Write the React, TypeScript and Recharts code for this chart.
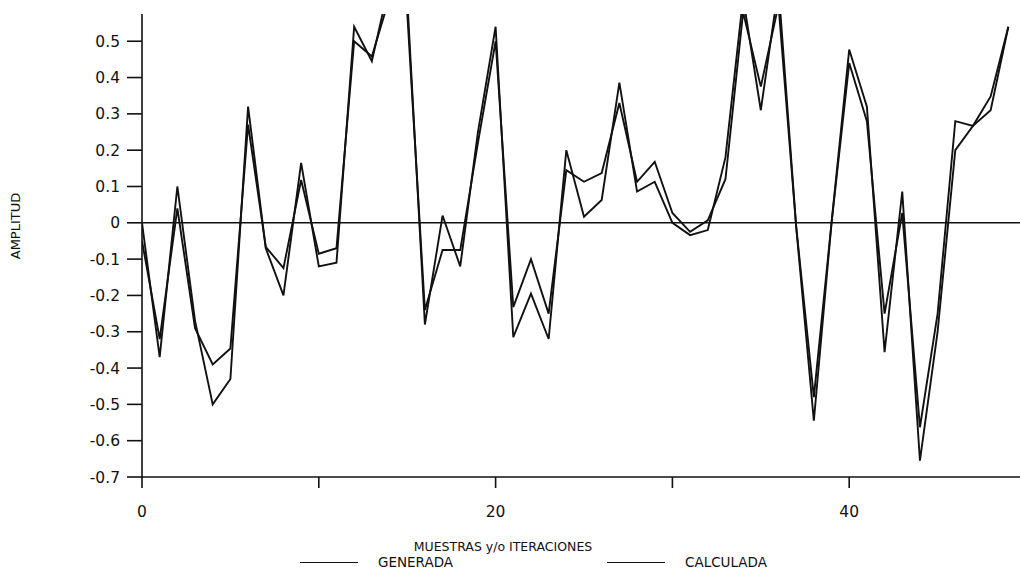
import { LineChart, Line, XAxis, YAxis, ReferenceLine, Legend } from 'recharts';

// sample index (x)
const muestras = [
  0, 1, 2, 3, 4, 5, 6, 7, 8, 9, 10, 11, 12, 13, 14, 15, 16, 17, 18, 19, 20, 21, 22, 23, 24,
  25, 26, 27, 28, 29, 30, 31, 32, 33, 34, 35, 36, 37, 38, 39, 40, 41, 42, 43, 44, 45, 46, 47, 48, 49,
];

const generada = [
  0.0, -0.37, 0.1, -0.27, -0.5, -0.43, 0.32, -0.07, -0.2, 0.165,
  -0.12, -0.11, 0.54, 0.445, 0.66, 0.62, -0.28, 0.02, -0.12, 0.25,
  0.54, -0.315, -0.195, -0.32, 0.2, 0.017, 0.063, 0.386, 0.086, 0.113,
  0.0, -0.034, -0.02, 0.18, 0.62, 0.31, 0.65, -0.01, -0.545, 0.0,
  0.477, 0.32, -0.356, 0.086, -0.655, -0.3, 0.2, 0.267, 0.31, 0.54,
];

const calculada = [
  -0.05, -0.32, 0.04, -0.29, -0.39, -0.346, 0.27, -0.066, -0.125, 0.118,
  -0.085, -0.07, 0.5, 0.458, 0.62, 0.58, -0.24, -0.075, -0.075, 0.22,
  0.5, -0.232, -0.1, -0.25, 0.145, 0.113, 0.137, 0.33, 0.113, 0.168,
  0.027, -0.025, 0.007, 0.12, 0.58, 0.375, 0.6, -0.01, -0.48, 0.0,
  0.44, 0.28, -0.25, 0.027, -0.563, -0.25, 0.28, 0.267, 0.348, 0.54,
];

const yTicks = [-0.7, -0.6, -0.5, -0.4, -0.3, -0.2, -0.1, 0, 0.1, 0.2, 0.3, 0.4, 0.5];
const xTicks = [0, 10, 20, 30, 40];
const xTickLabels: Record<number, string> = { 0: '0', 10: '', 20: '20', 30: '', 40: '40' };

const data = muestras.map((m, i) => ({ muestra: m, generada: generada[i], calculada: calculada[i] }));

const FONT = '"DejaVu Sans", sans-serif';
const INK = '#111';

const fmtY = (v: number) => (v === 0 ? '0' : v.toFixed(1));

const YTitle = () => (
  <text
    x={15}
    y={226}
    transform="rotate(-90 15 226)"
    textAnchor="middle"
    dominantBaseline="central"
    fontFamily={FONT}
    fontSize={13}
    fill={INK}
  >
    AMPLITUD
  </text>
);

const XTitle = () => (
  <text x={503} y={546} textAnchor="middle" dominantBaseline="central" fontFamily={FONT} fontSize={12.5} fill={INK}>
    MUESTRAS y/o ITERACIONES
  </text>
);

const LegendContent = () => {
  const item = (left: number, label: string) => (
    <div style={{ position: 'absolute', left, top: 0, display: 'flex', alignItems: 'center', height: 18 }}>
      <span style={{ display: 'inline-block', width: 58, borderTop: `1.5px solid ${INK}`, marginRight: 20 }} />
      <span style={{ fontFamily: FONT, fontSize: 13.5, color: INK }}>{label}</span>
    </div>
  );
  return (
    <div style={{ position: 'relative', width: 1020, height: 18 }}>
      {item(300, 'GENERADA')}
      {item(607, 'CALCULADA')}
    </div>
  );
};

export default function App() {
  return (
    <div style={{ position: 'absolute', left: 0, top: 0, width: 1020, height: 574, background: '#fff' }}>
      <LineChart width={1020} height={574} data={data} margin={{ top: 14, right: 0, bottom: 17, left: 0 }}>
        <XAxis
          dataKey="muestra"
          type="number"
          domain={[0, 49.66]}
          allowDataOverflow
          ticks={xTicks}
          tickFormatter={(v: number) => xTickLabels[v] ?? ''}
          axisLine={{ stroke: INK, strokeWidth: 1.6 }}
          tickLine={{ stroke: INK, strokeWidth: 1.6 }}
          tickSize={11}
          tickMargin={18}
          tick={{ fill: INK, fontFamily: FONT, fontSize: 15.5 }}
          height={80}
          label={<XTitle />}
        />
        <YAxis
          type="number"
          domain={[-0.7, 0.575]}
          allowDataOverflow
          ticks={yTicks}
          tickFormatter={fmtY}
          axisLine={{ stroke: INK, strokeWidth: 1.6 }}
          tickLine={{ stroke: INK, strokeWidth: 1.6 }}
          tickSize={15}
          tickMargin={7}
          tick={{ fill: INK, fontFamily: FONT, fontSize: 15.5 }}
          width={142}
          label={<YTitle />}
        />
        <ReferenceLine y={0} stroke={INK} strokeWidth={1.4} />
        <Line
          type="linear"
          dataKey="generada"
          stroke={INK}
          strokeWidth={1.9}
          dot={false}
          isAnimationActive={false}
        />
        <Line
          type="linear"
          dataKey="calculada"
          stroke={INK}
          strokeWidth={1.9}
          dot={false}
          isAnimationActive={false}
        />
        <Legend
          verticalAlign="middle"
          layout="horizontal"
          wrapperStyle={{ position: 'absolute', left: 0, top: 553, width: 1020, height: 18 }}
          content={<LegendContent />}
        />
      </LineChart>
    </div>
  );
}
